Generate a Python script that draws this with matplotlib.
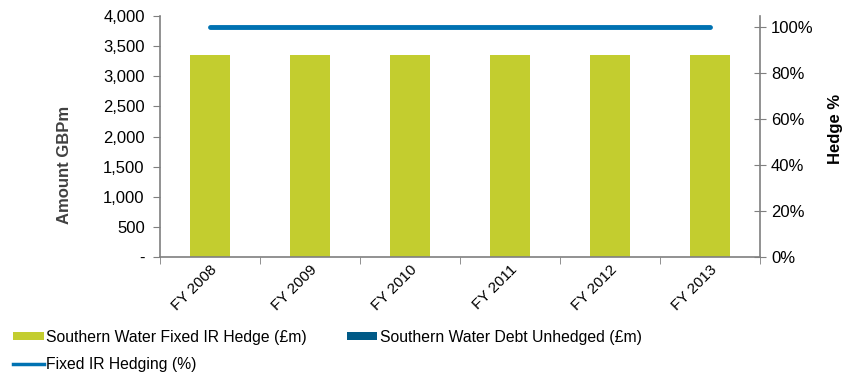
import matplotlib
matplotlib.use("Agg")
import matplotlib.pyplot as plt
from matplotlib.patches import Patch
from matplotlib.lines import Line2D
from matplotlib.ticker import FuncFormatter, FixedLocator
import numpy as np

plt.rcParams['font.family'] = ['Liberation Sans', 'DejaVu Sans']

categories = ["FY 2008", "FY 2009", "FY 2010", "FY 2011", "FY 2012", "FY 2013"]
fixed_hedge = [3350, 3350, 3350, 3350, 3350, 3350]
debt_unhedged = [0, 0, 0, 0, 0, 0]
hedging_pct = [1.0, 1.0, 1.0, 1.0, 1.0, 1.0]

bar_color = "#C3CD2F"
unhedged_color = "#005A87"
line_color = "#0072B2"
spine_color = "#7F7F7F"

fig = plt.figure(figsize=(8.45, 3.74), dpi=100)
ax = fig.add_axes([0.1893, 0.3128, 0.7101, 0.6444])
x = np.arange(len(categories))

ax.bar(x, fixed_hedge, width=0.4, color=bar_color, zorder=2)
ax.bar(x, debt_unhedged, width=0.4, bottom=fixed_hedge, color=unhedged_color, zorder=2)

ax.set_xlim(-0.5, len(categories) - 0.5)
ax.set_ylim(0, 4000)
ax.set_yticks(np.arange(0, 4001, 500))
ax.yaxis.set_major_formatter(FuncFormatter(lambda v, p: "-" if v == 0 else f"{int(v):,}"))
ax.set_xticks(x)
ax.set_xticklabels(categories, rotation=45, ha="right", rotation_mode="anchor", fontsize=11)
ax.tick_params(axis="x", length=0, pad=4)
ax.xaxis.set_minor_locator(FixedLocator(np.arange(-0.5, len(categories), 1.0)))
ax.tick_params(axis="x", which="minor", length=5, color=spine_color, direction="out")
ax.tick_params(axis="y", length=5, color=spine_color, labelsize=12, pad=6)

for s in ["top", "right"]:
    ax.spines[s].set_visible(False)
for s in ["left", "bottom"]:
    ax.spines[s].set_color(spine_color)
    ax.spines[s].set_linewidth(1.2)

ax.set_ylabel("Amount GBPm", fontsize=12, fontweight="bold", color="#404040")
ax.yaxis.set_label_coords(-0.146, 0.38)

ax2 = ax.twinx()
ax2.plot(x, hedging_pct, color=line_color, linewidth=3.5, solid_capstyle="round", zorder=3)
ax2.set_ylim(0, 1.048)
ax2.set_yticks(np.arange(0, 1.01, 0.2))
ax2.yaxis.set_major_formatter(FuncFormatter(lambda v, p: f"{v*100:.0f}%"))
ax2.tick_params(axis="y", direction="inout", length=8, color=spine_color, labelsize=12, pad=4)
for s in ["top", "left", "bottom"]:
    ax2.spines[s].set_visible(False)
ax2.spines["right"].set_color(spine_color)
ax2.spines["right"].set_linewidth(1.2)
ax2.set_ylabel("Hedge %", fontsize=12, fontweight="bold")
ax2.yaxis.set_label_coords(1.113, 0.53)

# column-major fill: first column holds the hedge bar and the hedging line
handles = [
    Patch(facecolor=bar_color, label="Southern Water Fixed IR Hedge (£m)"),
    Line2D([0], [0], color=line_color, linewidth=2.5, label="Fixed IR Hedging (%)"),
    Patch(facecolor=unhedged_color, label="Southern Water Debt Unhedged (£m)"),
]
fig.legend(handles=handles, loc="upper left", bbox_to_anchor=(0.008, 0.135), ncol=2,
           frameon=False, fontsize=11.3, handlelength=1.95, handleheight=0.45,
           handletextpad=0.15, columnspacing=2.55, labelspacing=0.8, borderaxespad=0)

fig.savefig("out.png", dpi=100)
